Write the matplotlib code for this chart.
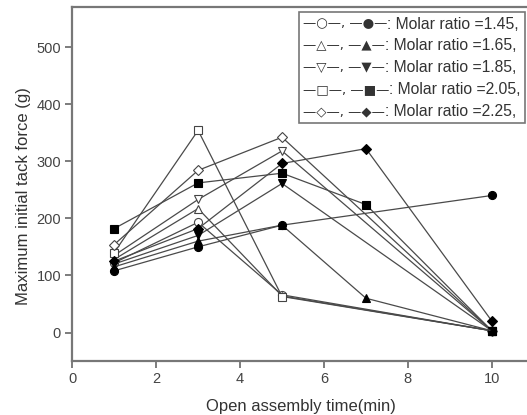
import matplotlib.pyplot as plt
from matplotlib.offsetbox import TextArea, HPacker, VPacker, AnchoredOffsetbox

plt.rcParams['font.family'] = ['Liberation Sans', 'DejaVu Sans']

# open symbols
x_open = [1, 3, 5, 10]
open_145 = [122, 193, 66, 3]
open_165 = [128, 217, 64, 3]
open_185 = [135, 233, 318, 3]
open_205 = [140, 354, 63, 3]
open_225 = [154, 284, 342, 3]

# filled symbols
x_145 = [1, 3, 5, 10]
fill_145 = [108, 150, 188, 240]
x_165 = [1, 3, 5, 7, 10]
fill_165 = [115, 160, 188, 60, 3]
x_185 = [1, 3, 5, 10]
fill_185 = [120, 170, 261, 3]
x_205 = [1, 3, 5, 7, 10]
fill_205 = [182, 262, 279, 224, 3]
x_225 = [1, 3, 5, 7, 10]
fill_225 = [125, 182, 296, 322, 20]

ratios = ['1.45', '1.65', '1.85', '2.05', '2.25']
markers = ['o', '^', 'v', 's', 'D']
open_sym = ['○', '△', '▽', '□', '◇']
fill_sym = ['●', '▲', '▼', '■', '◆']

fig = plt.figure(figsize=(5.27, 4.15), dpi=100)
ax = fig.add_axes([0.137, 0.130, 0.868, 0.853])

lc = '#4a4a4a'
opens = [open_145, open_165, open_185, open_205, open_225]
fills = [(x_145, fill_145), (x_165, fill_165), (x_185, fill_185),
         (x_205, fill_205), (x_225, fill_225)]

for i in range(5):
    ms = 4.8 if markers[i] == 'D' else 5.8
    ax.plot(x_open, opens[i], color=lc, lw=0.9, marker=markers[i], ms=ms,
            mfc='white', mec='#444444', mew=0.8)
# reverse so the circles sit on top
for i in range(4, -1, -1):
    ms = 4.8 if markers[i] == 'D' else 5.8
    xx, yy = fills[i]
    ax.plot(xx, yy, color=lc, lw=0.9, marker=markers[i], ms=ms,
            mfc='black', mec='black', mew=0.8)

ax.set_xlim(0, 10.9)
ax.set_ylim(-50, 570)
ax.set_xticks([0, 2, 4, 6, 8, 10])
ax.set_yticks([0, 100, 200, 300, 400, 500])

for s in ['left', 'bottom', 'top', 'right']:
    ax.spines[s].set_color('#777777')
    ax.spines[s].set_linewidth(1.6)
ax.tick_params(direction='out', length=5, width=1.2, color='#666666',
               labelsize=10.5, labelcolor='#444444', top=False, right=False, pad=3)

ax.set_xlabel('Open assembly time(min)', fontsize=12, color='#333333', labelpad=9)
ax.set_ylabel('Maximum initial tack force (g)', fontsize=12, color='#333333',
              labelpad=4, y=0.466)

# legend built from two text pieces per row
rows = []
for i in range(5):
    a = TextArea('—%s—, —%s—' % (open_sym[i], fill_sym[i]),
                 textprops=dict(family='DejaVu Sans', size=9.5, color='#333333'))
    b = TextArea(': Molar ratio =%s,' % ratios[i],
                 textprops=dict(family='Liberation Sans', size=11.3, color='#333333'))
    rows.append(HPacker(children=[a, b], align='center', pad=0, sep=0))
box = VPacker(children=rows, align='left', pad=0, sep=5.0)
anch = AnchoredOffsetbox(loc='upper right', child=box, pad=0.3, borderpad=0,
                         bbox_to_anchor=(0.99, 0.985), bbox_transform=ax.transAxes,
                         frameon=True)
anch.patch.set_edgecolor('#777777')
anch.patch.set_linewidth(1.2)
ax.add_artist(anch)

fig.savefig('out.png', dpi=100)
